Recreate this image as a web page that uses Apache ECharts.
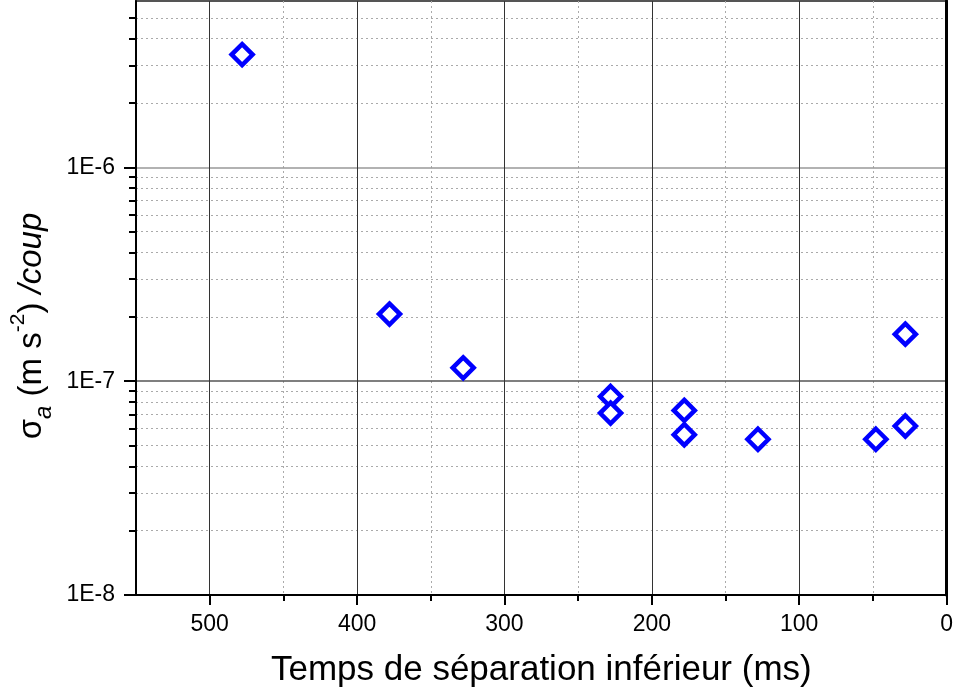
<!DOCTYPE html>
<html>
<head>
<meta charset="utf-8">
<script src="https://cdn.jsdelivr.net/npm/echarts@6/dist/echarts.min.js"></script>
<style>
html,body{margin:0;padding:0;background:#fff;}
#chart{width:956px;height:699px;}
</style>
</head>
<body>
<div id="chart"></div>
<script>
// Data
var sepTimes = [478, 378, 328, 228, 228, 178, 178, 128, 48, 28, 28];
var sigmaA   = [3.37e-6, 2.06e-7, 1.155e-7, 8.48e-8, 7.09e-8, 7.30e-8, 5.62e-8, 5.35e-8, 5.35e-8, 1.66e-7, 6.17e-8];

// Axis ticks
var xMajorTicks = [0, 100, 200, 300, 400, 500];
var xMinorTicks = [50, 150, 250, 350, 450];
var yMajorTicks = [1e-8, 1e-7, 1e-6];
var yMinorMantissas = [2, 3, 4, 5, 6, 7, 8, 9];
var yMin = 1e-8, yMax = 6e-6;
var xMin = 0, xMax = 550;

var yMinorTicks = [];
yMajorTicks.forEach(function (d) {
  yMinorMantissas.forEach(function (m) {
    var v = m * d;
    if (v < yMax * 0.999) yMinorTicks.push(v);
  });
});

var points = sepTimes.map(function (x, i) { return [x, sigmaA[i]]; });

var FONT = '"Liberation Sans", Arial, sans-serif';
var chart = echarts.init(document.getElementById('chart'));

var option = {
  animation: false,
  backgroundColor: '#fff',
  grid: {
    left: 136, right: 9, top: 1, bottom: 104,
    show: true, borderColor: '#555', borderWidth: 2, backgroundColor: 'transparent'
  },
  xAxis: [
    {
      type: 'value', inverse: true, min: xMin, max: xMax, interval: 100,
      position: 'bottom', z: 3,
      axisLine: { show: true, onZero: false, lineStyle: { color: '#000', width: 2 } },
      axisTick: { show: true, inside: false, length: 10, customValues: xMajorTicks, lineStyle: { color: '#000', width: 2 } },
      axisLabel: { show: true, customValues: xMajorTicks, fontFamily: FONT, fontSize: 23, color: '#000', margin: 18 },
      splitLine: { show: true, lineStyle: { color: '#333', width: 1 } },
      name: 'Temps de séparation inférieur (ms)',
      nameLocation: 'middle', nameGap: 58,
      nameTextStyle: { fontFamily: FONT, fontSize: 35, color: '#000' }
    },
    {
      type: 'value', inverse: true, min: xMin, max: xMax, interval: 50,
      position: 'bottom', z: 1,
      axisLine: { show: false, onZero: false },
      axisTick: { show: true, inside: false, length: 6, customValues: xMinorTicks, lineStyle: { color: '#000', width: 2 } },
      axisLabel: { show: false },
      splitLine: { show: true, lineStyle: { color: '#aaa', width: 1, type: [2, 3] } }
    }
  ],
  yAxis: [
    {
      type: 'log', logBase: 10, min: yMin, max: yMax, position: 'left', z: 3,
      axisLine: { show: true, onZero: false, lineStyle: { color: '#000', width: 2 } },
      axisTick: { show: true, inside: false, length: 12, customValues: yMajorTicks, lineStyle: { color: '#000', width: 2 } },
      axisLabel: {
        show: true, customValues: yMajorTicks, fontFamily: FONT, fontSize: 23, color: '#000', margin: 21,
        formatter: function (v) { return '1E' + Math.round(Math.log10(v)); }
      },
      splitLine: { show: true, lineStyle: { color: ['#555', '#555', '#999', '#555'], width: 1.5 } }
    },
    {
      type: 'log', logBase: 10, min: yMin, max: yMax, position: 'left', z: 1,
      axisLine: { show: false, onZero: false },
      axisTick: { show: true, inside: false, length: 7, customValues: yMinorTicks, lineStyle: { color: '#000', width: 2 } },
      axisLabel: { show: false },
      splitLine: { show: true, lineStyle: { color: '#aaa', width: 1, type: [2, 3] } }
    },
    {
      type: 'log', logBase: 10, min: yMin, max: yMax, position: 'right', z: 4,
      axisLine: { show: true, onZero: false, lineStyle: { color: '#000', width: 3 } },
      axisTick: { show: false }, axisLabel: { show: false }, splitLine: { show: false }
    }
  ],
  graphic: [
    {
      type: 'text', x: 32, y: 326, rotation: Math.PI / 2, z: 10,
      style: {
        text: '{s|σ}{sub|a}{n| (m s}{sup|-2}{n|) }{i|/coup}',
        align: 'center', verticalAlign: 'middle',
        rich: {
          s: { fontFamily: FONT, fontSize: 33, fill: '#000', lineHeight: 48, verticalAlign: 'middle' },
          n: { fontFamily: FONT, fontSize: 33, fill: '#000', lineHeight: 48, verticalAlign: 'middle' },
          i: { fontFamily: FONT, fontSize: 33, fontStyle: 'italic', fill: '#000', lineHeight: 48, verticalAlign: 'middle' },
          sub: { fontFamily: FONT, fontSize: 24, fontStyle: 'italic', fill: '#000', lineHeight: 48, verticalAlign: 'bottom' },
          sup: { fontFamily: FONT, fontSize: 21, fill: '#000', lineHeight: 48, verticalAlign: 'top' }
        }
      }
    }
  ],
  series: [
    {
      type: 'scatter', xAxisIndex: 0, yAxisIndex: 0,
      data: points,
      symbol: 'diamond', symbolSize: 21,
      itemStyle: { color: '#fff', borderColor: '#0000ff', borderWidth: 4.5, opacity: 1 },
      z: 5
    }
  ]
};
chart.setOption(option);
</script>
</body>
</html>
